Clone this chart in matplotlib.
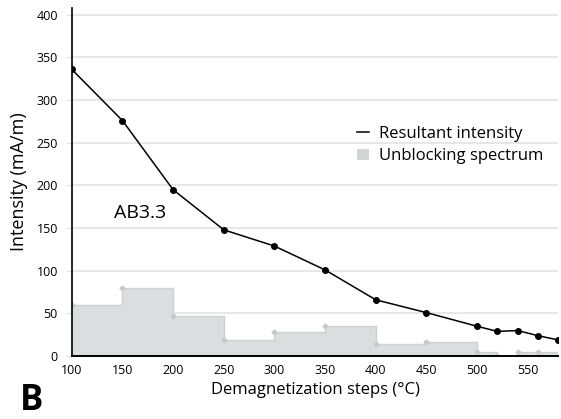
import matplotlib.pyplot as plt
from matplotlib.lines import Line2D
from matplotlib.patches import Patch

plt.rcParams['font.family'] = ['Open Sans', 'DejaVu Sans']

steps = [100, 150, 200, 250, 300, 350, 400, 450, 500, 520, 540, 560, 580]
intensity = [336, 276, 195, 148, 129, 101, 66, 51, 35, 29, 30, 24, 19]
unblocking = [60, 80, 47, 19, 28, 35, 14, 17, 5, 0, 5, 5, 5]

fig = plt.figure(figsize=(5.61, 4.19), dpi=100)
ax = fig.add_axes([0.128, 0.150, 0.867, 0.831])

ax.fill_between(steps, unblocking, step="post", color="#dcdddf", lw=0, zorder=1)
ax.step(steps, unblocking, where="post", color="#cfd0d2", lw=1, zorder=1)
ax.plot(steps[:-1], unblocking[:-1], ls="none", marker="D", ms=2.5, color="#c8c9cb", zorder=1)

ax.plot(steps, intensity, color="black", lw=1.1, marker="o", ms=4, zorder=3)

ax.set_xlim(100, 580)
ax.set_ylim(0, 408)
ax.set_xticks([100, 150, 200, 250, 300, 350, 400, 450, 500, 550])
ax.set_yticks(range(0, 401, 50))
ax.grid(axis="y", color="#e3e3e3", lw=1.2, zorder=0)
ax.set_axisbelow(True)
for s in ["top", "right"]:
    ax.spines[s].set_visible(False)
ax.spines["left"].set_linewidth(1.2)
ax.spines["bottom"].set_linewidth(1.4)
ax.tick_params(axis="y", length=4, color="#e3e3e3", labelsize=9, pad=6)
ax.tick_params(axis="x", length=0, labelsize=9, pad=6)

ax.set_xlabel("Demagnetization steps (°C)", fontsize=12, labelpad=3)
ax.set_ylabel("Intensity (mA/m)", fontsize=13, labelpad=6)

ax.text(142, 168, "AB3.3", fontsize=14, va="center")

handles = [Line2D([0], [0], color="black", lw=1.1),
           Patch(facecolor="#d4d5d7", edgecolor="none")]
ax.legend(handles, ["Resultant intensity", "Unblocking spectrum"], loc="upper left",
          bbox_to_anchor=(0.556, 0.705), frameon=False, fontsize=12,
          handlelength=0.7, handleheight=0.7, handletextpad=0.6, labelspacing=0.4)

fig.text(0.035, 0.021, "B", fontsize=25, fontweight="bold")

fig.savefig("out.png", dpi=100)
